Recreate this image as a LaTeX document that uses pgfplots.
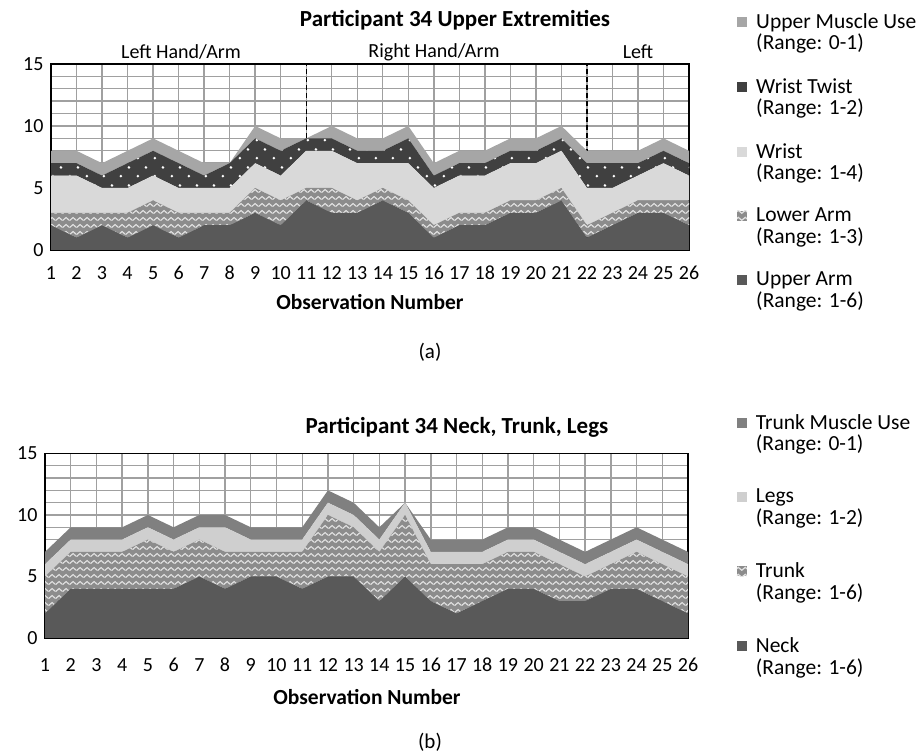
\documentclass[border=0pt]{standalone}
\usepackage{pgfplots}
\pgfplotsset{compat=1.18}
\usepackage{pgfplotstable}
\usepackage{fontspec}
\setmainfont{Carlito}
\usetikzlibrary{patterns}

% white zigzag lines used for the arm and trunk layers
\pgfdeclarepatternformonly{zigzag}{\pgfqpoint{0pt}{0pt}}{\pgfqpoint{7pt}{7pt}}{\pgfqpoint{7pt}{7pt}}{%
  \pgfsetlinewidth{1.3pt}%
  \pgfpathmoveto{\pgfqpoint{-0.5pt}{1.6pt}}%
  \pgfpathlineto{\pgfqpoint{3.5pt}{5pt}}%
  \pgfpathlineto{\pgfqpoint{7.5pt}{1.6pt}}%
  \pgfusepath{stroke}%
}
% sparse staggered dots used for the wrist twist layer
\pgfdeclarepatternformonly{sparsedots}{\pgfqpoint{0pt}{0pt}}{\pgfqpoint{17pt}{18pt}}{\pgfqpoint{17pt}{18pt}}{%
  \pgfpathcircle{\pgfqpoint{2pt}{2pt}}{1.5pt}%
  \pgfpathcircle{\pgfqpoint{10.5pt}{11pt}}{1.5pt}%
  \pgfusepath{fill}%
}

\definecolor{cUA}{HTML}{595959}
\definecolor{cLA}{HTML}{8C8C8C}
\definecolor{cWR}{HTML}{D9D9D9}
\definecolor{cWT}{HTML}{404040}
\definecolor{cMU}{HTML}{A6A6A6}
\definecolor{cLG}{HTML}{CFCFCF}
\definecolor{cTM}{HTML}{808080}
\definecolor{cGrid}{HTML}{A0A0A0}

% Upper extremity scores per observation
\pgfplotstableread{
obs ua la wr wt mu
1  2 1 3 1 1
2  1 2 3 1 1
3  2 1 2 1 1
4  1 2 2 2 1
5  2 2 2 2 1
6  1 2 2 2 1
7  2 1 2 1 1
8  2 1 2 2 0
9  3 2 2 2 1
10 2 2 2 2 1
11 4 1 3 1 0
12 3 2 3 1 1
13 3 1 3 1 1
14 4 1 2 1 1
15 3 1 3 2 1
16 1 1 3 1 1
17 2 1 3 1 1
18 2 1 3 1 1
19 3 1 3 1 1
20 3 1 3 1 1
21 4 1 3 1 1
22 1 1 3 2 1
23 2 1 2 2 1
24 3 1 2 1 1
25 3 1 3 1 1
26 2 2 2 1 1
}\upperdata

% Neck, trunk and leg scores per observation
\pgfplotstableread{
obs nk tr lg tm
1  2 3 1 1
2  4 3 1 1
3  4 3 1 1
4  4 3 1 1
5  4 4 1 1
6  4 3 1 1
7  5 3 1 1
8  4 3 2 1
9  5 2 1 1
10 5 2 1 1
11 4 3 1 1
12 5 5 1 1
13 5 4 1 1
14 3 4 1 1
15 5 5 1 0
16 3 3 1 1
17 2 4 1 1
18 3 3 1 1
19 4 3 1 1
20 4 3 1 1
21 3 3 1 1
22 3 2 1 1
23 4 2 1 1
24 4 3 1 1
25 3 3 1 1
26 2 3 1 1
}\neckdata

\pgfplotsset{
  stackchart/.style={
    scale only axis,
    xmin=1, xmax=26, ymin=0, ymax=15,
    xtick={1,...,26}, ytick={0,5,10,15}, minor ytick={1,...,14},
    grid=both,
    major grid style={cGrid, line width=1.4pt},
    minor grid style={cGrid, line width=1.4pt},
    major tick length=0pt, minor tick length=0pt,
    axis line style={black, line width=1.3pt},
    stack plots=y,
    /pgf/number format/assume math mode=true,
    ticklabel style={font=\fontsize{20}{22}\selectfont},
    yticklabel style={anchor=east, xshift=-4pt, yshift=0pt},
    area legend,
    reverse legend,
    legend cell align=left,
    legend image code/.code={\fill[##1] (0pt,5.5pt) rectangle (10pt,15.5pt); \path (17pt,0pt);},
  },
  layer/.style={draw=none, fill=#1},
}

\begin{document}
\begin{tikzpicture}
\useasboundingbox (0pt,0pt) rectangle (916pt,754pt);

% ---------- (a) upper extremities ----------
\begin{axis}[stackchart,
  at={(51pt,504pt)}, anchor=south west, width=638pt, height=186pt,
  xticklabel style={anchor=base, yshift=-30pt},
  legend style={draw=none, fill=none, at={(1.0753,1.283)}, anchor=north west,
    inner sep=0pt, row sep=23pt, font=\fontsize{21.5}{21.5}\selectfont,
    cells={align=left}},
]
\addplot[layer=cUA] table[x=obs, y=ua] {\upperdata} \closedcycle;
\addplot[layer=cLA, postaction={pattern=zigzag, pattern color=white!88!black}] table[x=obs, y=la] {\upperdata} \closedcycle;
\addplot[layer=cWR] table[x=obs, y=wr] {\upperdata} \closedcycle;
\addplot[layer=cWT, postaction={pattern=sparsedots, pattern color=white}] table[x=obs, y=wt] {\upperdata} \closedcycle;
\addplot[layer=cMU] table[x=obs, y=mu] {\upperdata} \closedcycle;
\legend{{Upper Arm\\(Range: 1-6)}, {Lower Arm\\(Range: 1-3)}, {Wrist\\(Range: 1-4)}, {Wrist Twist\\(Range: 1-2)}, {Upper Muscle Use\\(Range: 0-1)}}
\draw[black, line width=1.3pt, dash pattern=on 5pt off 3pt] (axis cs:11,0) -- (axis cs:11,15);
\draw[black, line width=1.3pt, dash pattern=on 5pt off 3pt] (axis cs:22,0) -- (axis cs:22,15);
\end{axis}

\node[font=\fontsize{23}{26}\selectfont\bfseries] at (455pt,734pt) {Participant 34 Upper Extremities};
\node[font=\fontsize{20}{22}\selectfont] at (181pt,702pt) {Left Hand/Arm};
\node[font=\fontsize{20}{22}\selectfont] at (434pt,702pt) {Right Hand/Arm};
\node[font=\fontsize{20}{22}\selectfont] at (638pt,702pt) {Left};
\node[font=\fontsize{21.5}{24}\selectfont\bfseries] at (370pt,452pt) {Observation Number};
\node[font=\fontsize{21}{24}\selectfont] at (430pt,402pt) {(a)};

% ---------- (b) neck, trunk, legs ----------
\begin{axis}[stackchart,
  at={(45pt,116pt)}, anchor=south west, width=643pt, height=184.5pt,
  xticklabel style={anchor=base, yshift=-34pt},
  legend style={draw=none, fill=none, at={(1.0757,1.225)}, anchor=north west,
    inner sep=0pt, row sep=33pt, font=\fontsize{21.5}{21.5}\selectfont,
    cells={align=left}},
]
\addplot[layer=cUA] table[x=obs, y=nk] {\neckdata} \closedcycle;
\addplot[layer=cLA, postaction={pattern=zigzag, pattern color=white!88!black}] table[x=obs, y=tr] {\neckdata} \closedcycle;
\addplot[layer=cLG] table[x=obs, y=lg] {\neckdata} \closedcycle;
\addplot[layer=cTM] table[x=obs, y=tm] {\neckdata} \closedcycle;
\legend{{Neck\\(Range: 1-6)}, {Trunk\\(Range: 1-6)}, {Legs\\(Range: 1-2)}, {Trunk Muscle Use\\(Range: 0-1)}}
\end{axis}

\node[font=\fontsize{23}{26}\selectfont\bfseries] at (457pt,327pt) {Participant 34 Neck, Trunk, Legs};
\node[font=\fontsize{21.5}{24}\selectfont\bfseries] at (367pt,57pt) {Observation Number};
\node[font=\fontsize{21}{24}\selectfont] at (430pt,12pt) {(b)};
\end{tikzpicture}
\end{document}
